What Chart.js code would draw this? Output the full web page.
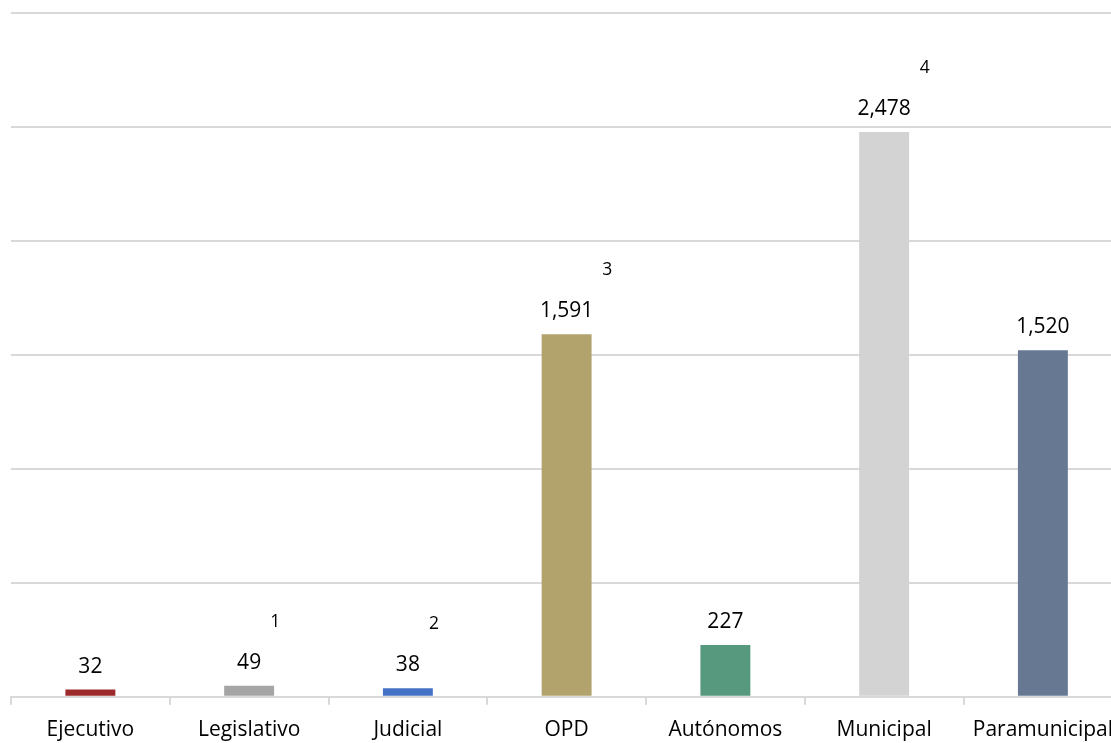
<!DOCTYPE html>
<html>
<head>
<meta charset="utf-8">
<script src="https://cdn.jsdelivr.net/npm/chart.js@4/dist/chart.umd.min.js"></script>
<style>
  html, body { margin: 0; padding: 0; background: #fff; overflow: hidden; }
  #wrap { width: 1111px; height: 743px; overflow: hidden; }
</style>
</head>
<body>
<div id="wrap"><canvas id="chart" width="1126" height="757"></canvas></div>
<script>
const categories = ["Ejecutivo", "Legislativo", "Judicial", "OPD", "Autónomos", "Municipal", "Paramunicipal"];
const values = [32, 49, 38, 1591, 227, 2478, 1520];
const footnotes = ["", "1", "2", "3", "", "4", ""];
const barColors = ["#9C2A2B", "#A5A5A5", "#4472C4", "#B2A36D", "#57997F", "#D3D3D3", "#667892"];
const yMin = 0;
const yMax = 3000;
const yStep = 500;

// value labels above each bar, plus the small footnote numbers
const barLabels = {
  id: "barLabels",
  afterDatasetsDraw(chart) {
    const ctx = chart.ctx;
    const meta = chart.getDatasetMeta(0);
    ctx.save();
    ctx.fillStyle = "#000";
    ctx.textAlign = "center";
    ctx.textBaseline = "alphabetic";
    meta.data.forEach((bar, i) => {
      const text = values[i].toLocaleString("en-US");
      ctx.font = '21px "Open Sans"';
      ctx.fillText(text, bar.x, bar.y - 17);
      if (footnotes[i]) {
        const w = ctx.measureText(text).width;
        ctx.font = '17.5px "Open Sans"';
        ctx.fillText(footnotes[i], bar.x + w / 2 + 14, bar.y - 59);
      }
    });
    ctx.restore();
  }
};

document.addEventListener("DOMContentLoaded", () => {
  new Chart(document.getElementById("chart"), {
    type: "bar",
    data: {
      labels: categories,
      datasets: [
        {
          data: values,
          backgroundColor: barColors,
          borderWidth: 0,
          barPercentage: 1,
          categoryPercentage: 0.3145,
        },
      ],
    },
    options: {
      responsive: false,
      animation: false,
      layout: { padding: { left: 11, top: 13, right: 0, bottom: 1 } },
      plugins: {
        legend: { display: false },
        tooltip: { enabled: false },
      },
      scales: {
        x: {
          grid: {
            offset: true,
            drawOnChartArea: false,
            drawTicks: true,
            tickLength: 8,
            color: "#D9D9D9",
            lineWidth: 2,
          },
          border: { display: true, color: "#D9D9D9", width: 2 },
          ticks: {
            color: "#000",
            font: { family: "Open Sans", size: 21 },
            padding: 13,
            maxRotation: 0,
            autoSkip: false,
          },
        },
        y: {
          min: yMin,
          max: yMax,
          ticks: { display: false, stepSize: yStep },
          grid: { color: "#D9D9D9", lineWidth: 2, drawTicks: false },
          border: { display: false },
        },
      },
    },
    plugins: [barLabels],
  });
});
</script>
</body>
</html>
